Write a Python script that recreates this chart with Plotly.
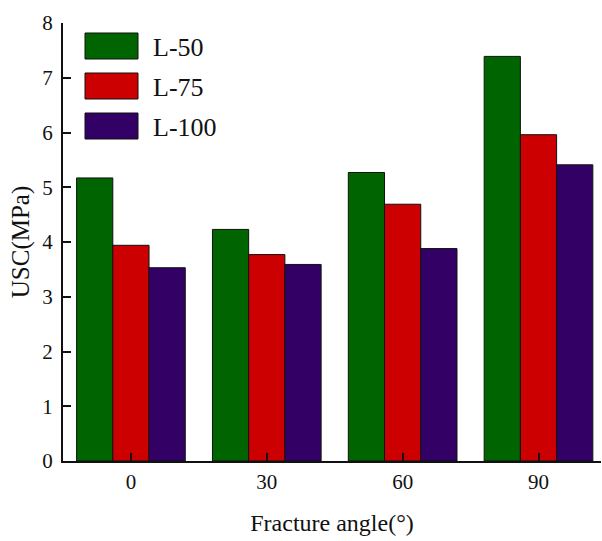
import plotly.graph_objects as go

# Uniaxial strength data for each fracture angle
angles = ["0", "30", "60", "90"]
series_names = ["L-50", "L-75", "L-100"]
l50 = [5.17, 4.23, 5.27, 7.39]
l75 = [3.94, 3.77, 4.69, 5.96]
l100 = [3.53, 3.59, 3.88, 5.41]
colors = ["#006400", "#CC0000", "#330066"]
y_ticks = [0, 1, 2, 3, 4, 5, 6, 7, 8]

W, H = 602, 541
M_L, M_R, M_T, M_B = 63, 1, 23, 80
FONT = "Liberation Serif"

fig = go.Figure()
for name, vals, col in zip(series_names, [l50, l75, l100], colors):
    fig.add_trace(go.Bar(
        x=angles, y=vals, name=name, showlegend=False,
        marker=dict(color=col, line=dict(color="#111111", width=1)),
    ))

# Hand-built legend with wide swatches
plot_w = W - M_L - M_R
plot_h = H - M_T - M_B


def px_x(px):
    return (px - M_L) / plot_w


def px_y(py):
    return (H - M_B - py) / plot_h


shapes = []
annotations = []
for i, (name, col) in enumerate(zip(series_names, colors)):
    top = 33 + i * 40
    shapes.append(dict(
        type="rect", xref="paper", yref="paper",
        x0=px_x(85), x1=px_x(138), y0=px_y(top + 26), y1=px_y(top),
        fillcolor=col, line=dict(color="#111111", width=1),
    ))
    annotations.append(dict(
        xref="paper", yref="paper", x=px_x(151), y=px_y(top + 14),
        xanchor="left", yanchor="middle", showarrow=False,
        text=name, font=dict(family=FONT, size=26, color="#111111"),
    ))

fig.update_layout(
    width=W, height=H,
    margin=dict(l=M_L, r=M_R, t=M_T, b=M_B),
    paper_bgcolor="white", plot_bgcolor="white",
    barmode="group", bargap=0.2, bargroupgap=0,
    shapes=shapes, annotations=annotations,
    font=dict(family=FONT, color="#111111"),
    xaxis=dict(
        type="category", range=[-0.5, 3.46],
        showline=True, linecolor="#111111", linewidth=2,
        ticks="inside", ticklen=8, tickwidth=2, tickcolor="#111111",
        tickfont=dict(family=FONT, size=21, color="#111111"),
        ticklabelstandoff=1,
        showgrid=False, zeroline=False,
        title=dict(text="Fracture angle(°)", font=dict(family=FONT, size=24, color="#111111"), standoff=21),
    ),
    yaxis=dict(
        range=[0, 8], tickvals=y_ticks,
        showline=True, linecolor="#111111", linewidth=2,
        ticks="inside", ticklen=8, tickwidth=2, tickcolor="#111111",
        tickfont=dict(family=FONT, size=21, color="#111111"),
        ticklabelstandoff=4,
        showgrid=False, zeroline=False,
        title=dict(text="USC(MPa)", font=dict(family=FONT, size=25, color="#111111"), standoff=6),
    ),
)

fig.write_html("out.html")
